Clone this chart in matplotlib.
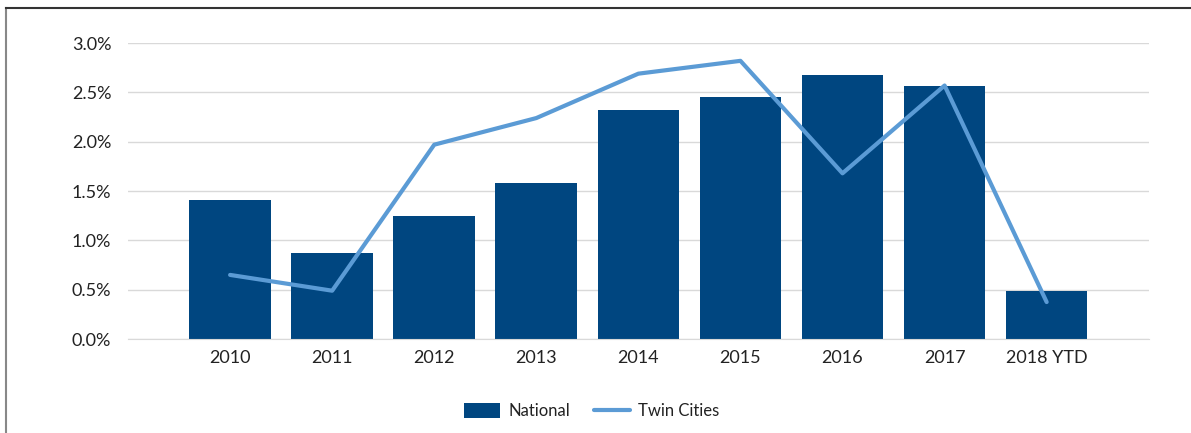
import matplotlib
matplotlib.use("Agg")
import matplotlib.pyplot as plt
from matplotlib.lines import Line2D
from matplotlib.ticker import FuncFormatter

categories = ["2010", "2011", "2012", "2013", "2014", "2015", "2016", "2017", "2018 YTD"]
national = [1.41, 0.87, 1.25, 1.58, 2.32, 2.45, 2.68, 2.57, 0.49]
twin_cities = [0.65, 0.49, 1.97, 2.24, 2.69, 2.82, 1.68, 2.57, 0.375]
yticks = [0.0, 0.5, 1.0, 1.5, 2.0, 2.5, 3.0]

plt.rcParams['font.family'] = ['Lato', 'DejaVu Sans']

fig = plt.figure(figsize=(11.91, 4.33), dpi=100)
ax = fig.add_axes([0.1075, 0.217, 0.857, 0.6835])

x = list(range(len(categories)))
bars = ax.bar(x, national, width=0.8, color="#004680", label="National", zorder=2)
line, = ax.plot(x, twin_cities, color="#5B9BD5", lw=3, label="Twin Cities", zorder=3,
                solid_capstyle="round")

ax.set_xlim(-1, 9)
ax.set_ylim(0, 3.0)
ax.set_yticks(yticks)
ax.yaxis.set_major_formatter(FuncFormatter(lambda v, p: f"{v:.1f}%"))
ax.set_xticks(x)
ax.set_xticklabels(categories)
ax.tick_params(axis="both", length=0, labelsize=13, colors="#222222")
ax.tick_params(axis="y", pad=12)
ax.tick_params(axis="x", pad=8)
ax.grid(axis="y", color="#d9d9d9", lw=1, zorder=0)
ax.set_axisbelow(True)
for s in ["top", "right", "left"]:
    ax.spines[s].set_visible(False)
ax.spines["bottom"].set_color("#d9d9d9")

leg = fig.legend(handles=[bars, line], labels=["National", "Twin Cities"],
                 loc="center", bbox_to_anchor=(0.497, 0.05), ncol=2, frameon=False,
                 fontsize=12, handlelength=2.16, handleheight=1.0, handletextpad=0.5,
                 columnspacing=1.4, labelcolor="#222222")

# frame lines
fig.add_artist(Line2D([0.005, 0.005], [0, 0.982], transform=fig.transFigure, color="#888888", lw=1.5))
fig.add_artist(Line2D([0.005, 1.0], [0.982, 0.982], transform=fig.transFigure, color="#333333", lw=1.5))

fig.savefig("out.png", dpi=100)
